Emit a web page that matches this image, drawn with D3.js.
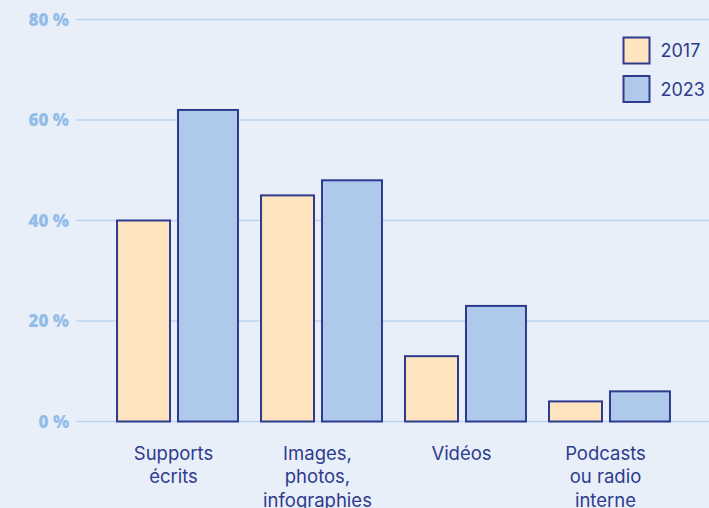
<!DOCTYPE html>
<html>
<head>
<meta charset="utf-8">
<script src="https://cdn.jsdelivr.net/npm/d3@7/dist/d3.min.js"></script>
<style>
  html, body { margin: 0; padding: 0; background: #e8eff9; }
  svg { display: block; }
</style>
</head>
<body>
<svg id="chart" width="709" height="508"></svg>
<script>
// Share of each content format, by survey year (%)
const categories = [
  ["Supports", "écrits"],
  ["Images,", "photos,", "infographies"],
  ["Vidéos"],
  ["Podcasts", "ou radio", "interne"]
];
const categoryKeys = ["Supports écrits", "Images, photos, infographies", "Vidéos", "Podcasts ou radio interne"];
const years = ["2017", "2023"];
const values2017 = [40, 45, 13, 4];
const values2023 = [62, 48, 23, 6];
const yTicks = [0, 20, 40, 60, 80];

const colors = { "2017": "#fee4bf", "2023": "#afc9ea" };
const strokeColor = "#2e3b8e";
const textColor = "#2e3b8e";

const svg = d3.select("#chart");
const W = 709, H = 508;

svg.append("rect").attr("width", W).attr("height", H).attr("fill", "#e8eff9");

const y = d3.scaleLinear().domain([0, 80]).range([421.5, 19.5]);
const x = d3.scaleBand().domain(categoryKeys).range([94, 693])
  .paddingInner(0.16).paddingOuter(0.16);

// within a group: narrower 2017 bar, gap, wider 2023 bar
const bw = x.bandwidth();
const sub = {
  "2017": { off: 0, w: bw * 53 / 121 },
  "2023": { off: bw * 61 / 121, w: bw * 60 / 121 }
};

// gridlines
svg.append("g").selectAll("line").data(yTicks).join("line")
  .attr("x1", 76).attr("x2", W)
  .attr("y1", d => y(d)).attr("y2", d => y(d))
  .attr("stroke", "#bed4f0").attr("stroke-width", 1.6);

// y tick labels
svg.append("g").selectAll("text").data(yTicks).join("text")
  .attr("x", 69).attr("y", d => y(d) + 6)
  .attr("text-anchor", "end")
  .attr("font-family", "'Open Sans', Lato, sans-serif")
  .attr("font-weight", 800)
  .attr("font-size", 17)
  .attr("fill", "#93bce8")
  .text(d => d + " %");

// bars
const rows = [];
categoryKeys.forEach((c, i) => {
  rows.push({ cat: c, year: "2017", v: values2017[i] });
  rows.push({ cat: c, year: "2023", v: values2023[i] });
});
svg.append("g").selectAll("rect").data(rows).join("rect")
  .attr("x", d => x(d.cat) + sub[d.year].off)
  .attr("width", d => sub[d.year].w)
  .attr("y", d => y(d.v))
  .attr("height", d => y(0) - y(d.v))
  .attr("fill", d => colors[d.year])
  .attr("stroke", strokeColor)
  .attr("stroke-width", 2);

// category labels
const lab = svg.append("g").selectAll("text").data(categories).join("text")
  .attr("text-anchor", "middle")
  .attr("font-family", "Inter, 'Open Sans', sans-serif")
  .attr("font-size", 18.5)
  .attr("fill", textColor);
lab.each(function(lines, i) {
  const t = d3.select(this);
  const cx = x(categoryKeys[i]) + bw / 2 - 4;
  lines.forEach((l, j) => {
    t.append("tspan").attr("x", cx).attr("y", 459.5 + j * 23.5).text(l);
  });
});

// legend
const leg = svg.append("g").selectAll("g").data(years).join("g")
  .attr("transform", (d, i) => `translate(623.5, ${37.5 + i * 38.5})`);
leg.append("rect").attr("width", 26).attr("height", 26)
  .attr("fill", d => colors[d]).attr("stroke", strokeColor).attr("stroke-width", 2);
leg.append("text").attr("x", 37).attr("y", 19.5)
  .attr("font-family", "Inter, 'Open Sans', sans-serif")
  .attr("font-size", 18)
  .attr("fill", textColor)
  .text(d => d);
</script>
</body>
</html>
